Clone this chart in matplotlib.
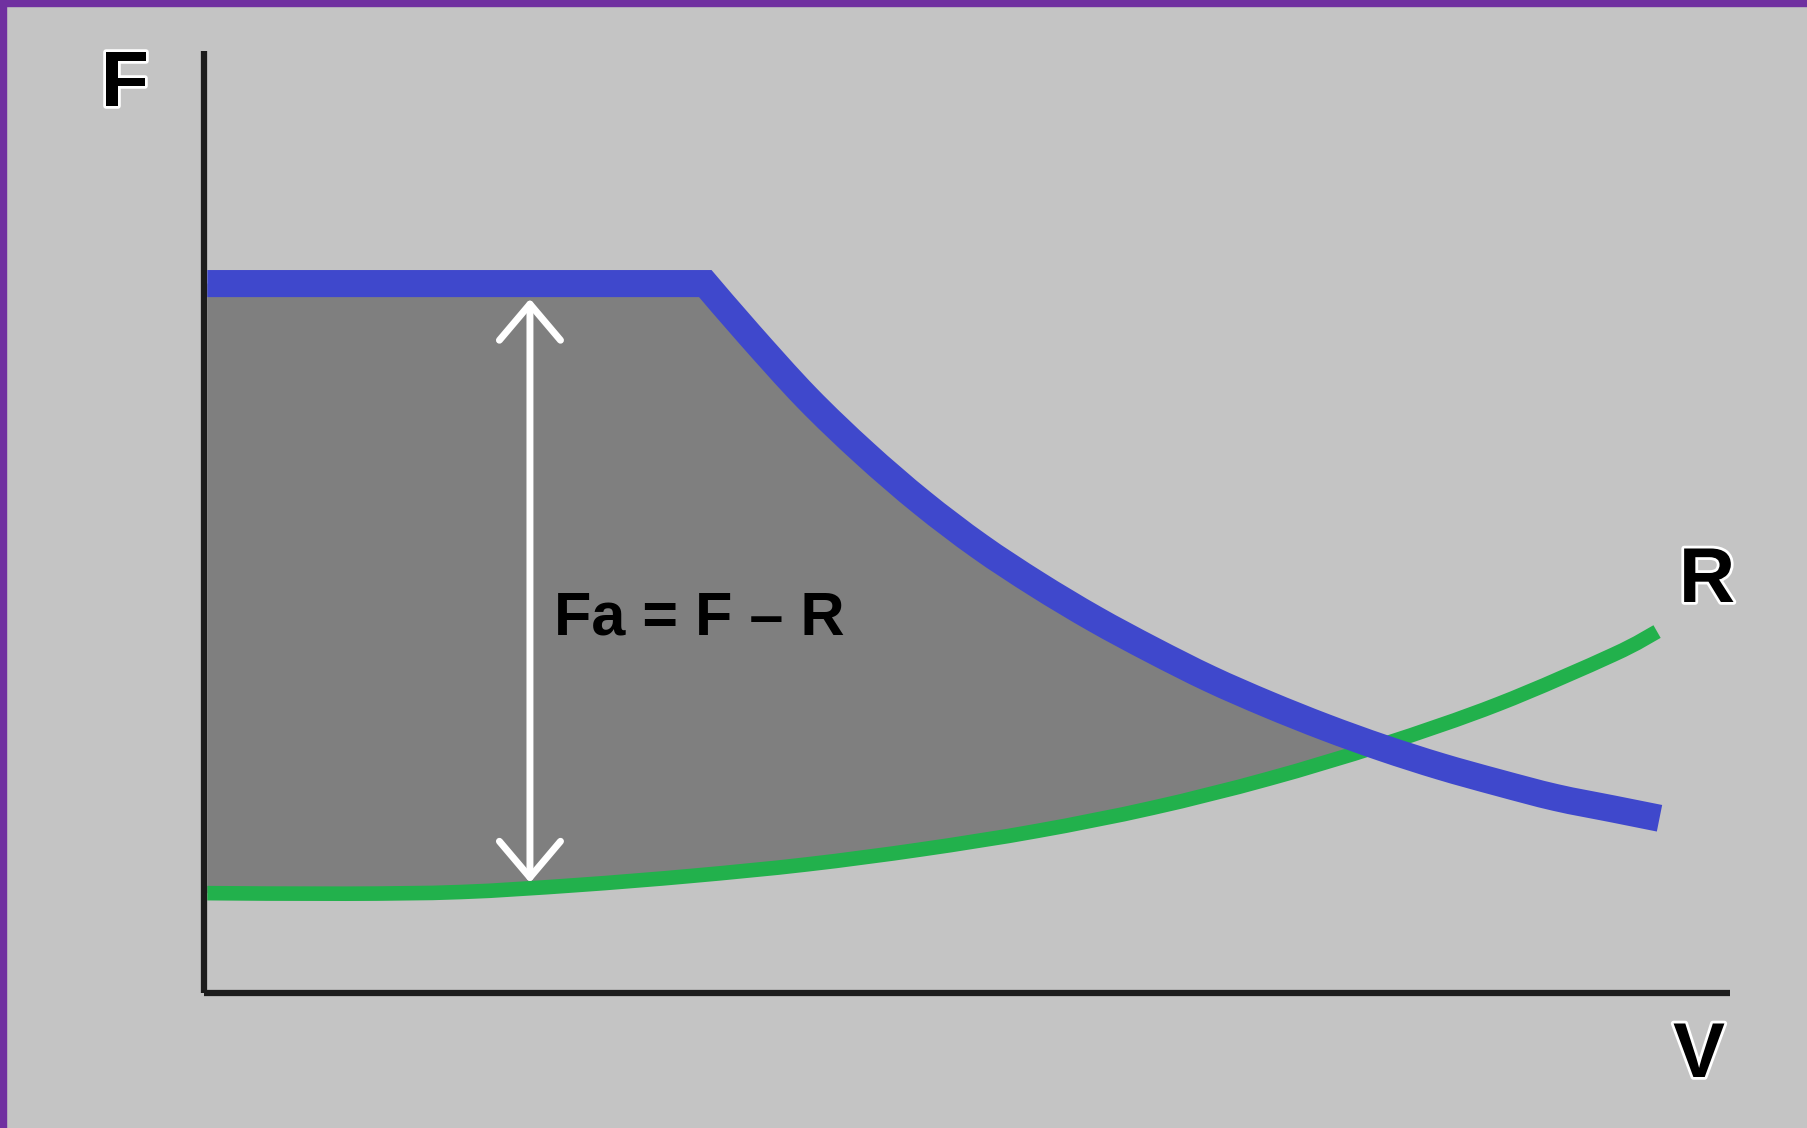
import matplotlib
matplotlib.use('Agg')
import matplotlib.pyplot as plt
import matplotlib.patheffects as pe
from matplotlib.patches import Rectangle, PathPatch
from matplotlib.path import Path
import numpy as np

# Zugkraft F über Geschwindigkeit V (Achsen 0..100)
v_F = [0.22, 32.85, 35.72, 39.50, 43.27, 47.04, 50.82, 54.59, 58.37, 62.15,
       65.92, 69.70, 73.48, 77.25, 81.03, 84.80, 88.58, 92.36, 95.38]
F = [75.31, 75.31, 69.93, 63.20, 57.33, 52.07, 47.42, 43.38, 39.71, 36.41,
     33.35, 30.66, 28.21, 26.01, 24.05, 22.34, 20.75, 19.53, 18.55]

# Fahrwiderstand R
v_R = [0.22, 9.29, 16.84, 24.39, 31.94, 39.50, 47.04, 54.59, 62.15,
       69.70, 77.25, 84.80, 92.36, 95.22]
R = [10.60, 10.54, 10.72, 11.45, 12.43, 13.65, 15.25, 17.20, 19.65,
     22.71, 26.38, 30.66, 35.92, 38.37]

v_pfeil = 21.36

W, H = 1807, 1128
bg = '#c4c4c4'


def kurve(pts):
    # glatte Bezier-Kurve durch die Punkte (Catmull-Rom)
    pts = np.asarray(pts, dtype=float)
    n = len(pts)
    verts, codes = [], []
    for i in range(n - 1):
        p0 = pts[i - 1] if i > 0 else pts[i]
        p1, p2 = pts[i], pts[i + 1]
        p3 = pts[i + 2] if i + 2 < n else pts[i + 1]
        verts += [p1 + (p2 - p0) / 6, p2 - (p3 - p1) / 6, p2]
        codes += [Path.CURVE4] * 3
    return verts, codes


fig = plt.figure(figsize=(W / 100, H / 100), dpi=100, facecolor=bg)
ax = fig.add_axes([204 / W, (H - 993) / H, 1526 / W, 942 / H])
ax.set_facecolor('none')
ax.set_xlim(0, 100)
ax.set_ylim(0, 100)
ax.set_xticks([])
ax.set_yticks([])
for s in ['top', 'right']:
    ax.spines[s].set_visible(False)
for s in ['left', 'bottom']:
    ax.spines[s].set_linewidth(4.5)
    ax.spines[s].set_color('#1c1c1c')
    ax.spines[s].set_capstyle('butt')

pF = np.column_stack([v_F, F])
pR = np.column_stack([v_R, R])

# Schnittpunkt von F und R
d = pF[:, 1] - np.interp(pF[:, 0], v_R, R)
k = np.argmax(d < 0)
t = d[k - 1] / (d[k - 1] - d[k])
s_pt = pF[k - 1] + t * (pF[k] - pF[k - 1])

# F: waagrecht bis zum Knick, danach gekrümmt
vF_c, cF_c = kurve(pF[1:])
verts_F = [pF[0], pF[1]] + vF_c
codes_F = [Path.MOVETO, Path.LINETO] + cF_c

vR_c, cR_c = kurve(pR)
verts_R = [pR[0]] + vR_c
codes_R = [Path.MOVETO] + cR_c

# Beschleunigungskraft-Fläche zwischen F und R
a_pts = np.vstack([pF[1:k], s_pt])
b_pts = np.vstack([s_pt, pR[pR[:, 0] < s_pt[0]][::-1]])
a_v, a_c = kurve(a_pts)
b_v, b_c = kurve(b_pts)
verts_A = [pF[0], pF[1]] + a_v + b_v + [pF[0]]
codes_A = [Path.MOVETO, Path.LINETO] + a_c + b_c + [Path.CLOSEPOLY]
ax.add_patch(PathPatch(Path(verts_A, codes_A), facecolor='#7f7f7f', lw=0, zorder=1))

ax.add_patch(PathPatch(Path(verts_R, codes_R), fill=False, edgecolor='#22b14c',
                       lw=10.5, capstyle='butt', zorder=2, clip_on=False))
ax.add_patch(PathPatch(Path(verts_F, codes_F), fill=False, edgecolor='#3f48cc',
                       lw=19.5, capstyle='butt', joinstyle='miter', zorder=3,
                       clip_on=False))

# Doppelpfeil
ax.annotate('', xy=(v_pfeil, 11.7), xytext=(v_pfeil, 73.7),
            arrowprops=dict(arrowstyle='<->,head_length=0.26,head_width=0.22',
                            color='white', lw=5, mutation_scale=100,
                            shrinkA=0, shrinkB=0), zorder=4)

ax.text(22.94, 38.1, 'Fa = F – R', fontsize=44, fontweight='bold',
        family='Liberation Sans', ha='left', va='baseline', color='black', zorder=5)

outline = [pe.withStroke(linewidth=4, foreground='white')]
for lbl, x, y in [('F', 125, 106), ('R', 1707, 602), ('V', 1699, 1077)]:
    fig.text(x / W, 1 - y / H, lbl, fontsize=56, fontweight='bold',
             family='Liberation Sans', ha='center', va='baseline',
             color='black', path_effects=outline)

# violetter Rand oben und links
fig.patches.append(Rectangle((0, 1 - 6 / H), 1, 6 / H, transform=fig.transFigure,
                             color='#7030a0', zorder=10))
fig.patches.append(Rectangle((0, 0), 6 / W, 1, transform=fig.transFigure,
                             color='#7030a0', zorder=10))

fig.savefig('out.png', dpi=100, facecolor=bg)
plt.close(fig)
